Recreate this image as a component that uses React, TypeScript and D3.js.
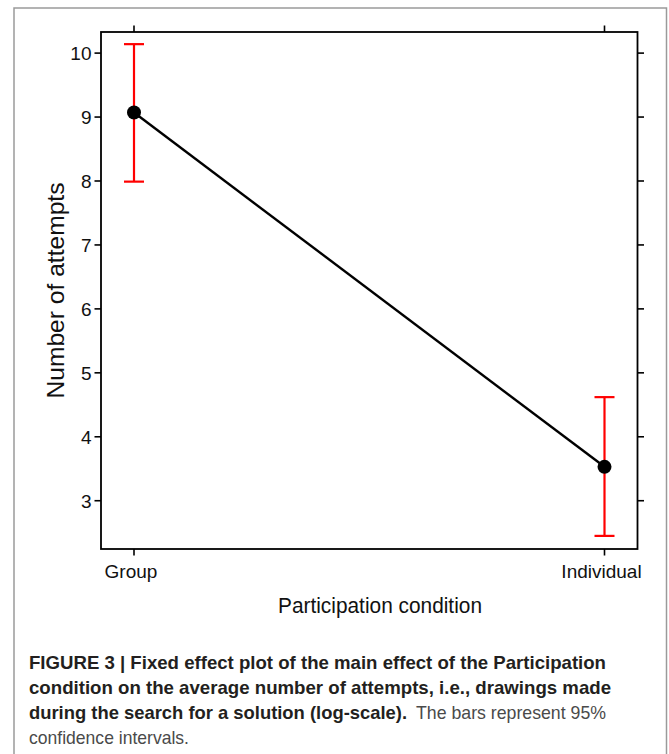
import React from "react";
import * as d3 from "d3";

const categories = ["Group", "Individual"];
const means = [9.07, 3.53];
const lowers = [7.99, 2.45];
const uppers = [10.14, 4.62];
const yTicks = [3, 4, 5, 6, 7, 8, 9, 10];
const yLabel = "Number of attempts";
const xLabel = "Participation condition";
const captionBold1 = "FIGURE 3 | Fixed effect plot of the main effect of the Participation";
const captionBold2 = "condition on the average number of attempts, i.e., drawings made";
const captionBold3 = "during the search for a solution (log-scale).";
const captionReg3 = "The bars represent 95%";
const captionReg4 = "confidence intervals.";

const W = 669;
const H = 754;
const box = { left: 101, right: 637.5, top: 32, bottom: 549 };
const FONT = "'Liberation Sans', Arial, Helvetica, sans-serif";

export default function App() {
  const x = d3
    .scalePoint<string>()
    .domain(categories)
    .range([box.left + 33, box.right - 33]);
  const y = d3.scaleLinear().domain([2.245, 10.33]).range([box.bottom, box.top]);

  const pts = categories.map((c, i) => ({ c, m: means[i], lo: lowers[i], hi: uppers[i] }));
  const line = d3
    .line<{ c: string; m: number }>()
    .x((d) => x(d.c) as number)
    .y((d) => y(d.m));

  const tickLen = 6.5;

  return (
    <div style={{ position: "absolute", left: 0, top: 0 }}>
      <svg width={W} height={H} style={{ display: "block", background: "#fff" }}>
        <rect x={14} y={8} width={652.5} height={760} fill="none" stroke="#9a9a9a" strokeWidth={1.5} />

        {yTicks.map((t) => (
          <g key={t}>
            <line x1={box.left - tickLen} x2={box.left} y1={y(t)} y2={y(t)} stroke="#000" strokeWidth={1.6} />
            <line x1={box.right} x2={box.right + tickLen} y1={y(t)} y2={y(t)} stroke="#000" strokeWidth={1.6} />
            <text
              x={box.left - tickLen - 3}
              y={y(t)}
              dy="0.36em"
              textAnchor="end"
              fontFamily={FONT}
              fontSize={19}
              fill="#111"
            >
              {t}
            </text>
          </g>
        ))}

        {categories.map((c) => (
          <g key={c}>
            <line x1={x(c)} x2={x(c)} y1={box.top - tickLen} y2={box.top} stroke="#000" strokeWidth={1.6} />
            <line x1={x(c)} x2={x(c)} y1={box.bottom} y2={box.bottom + tickLen} stroke="#000" strokeWidth={1.6} />
            <text x={(x(c) as number) - 3} y={578} textAnchor="middle" fontFamily={FONT} fontSize={19} fill="#111">
              {c}
            </text>
          </g>
        ))}

        <rect
          x={box.left}
          y={box.top}
          width={box.right - box.left}
          height={box.bottom - box.top}
          fill="none"
          stroke="#000"
          strokeWidth={1.8}
        />

        <path d={line(pts) || ""} fill="none" stroke="#000" strokeWidth={2.4} />

        {pts.map((p) => {
          const cx = x(p.c) as number;
          return (
            <g key={p.c} stroke="#ff0000" strokeWidth={2.2}>
              <line x1={cx} x2={cx} y1={y(p.lo)} y2={y(p.hi)} />
              <line x1={cx - 10} x2={cx + 10} y1={y(p.lo)} y2={y(p.lo)} />
              <line x1={cx - 10} x2={cx + 10} y1={y(p.hi)} y2={y(p.hi)} />
            </g>
          );
        })}

        {pts.map((p) => (
          <circle key={p.c} cx={x(p.c) as number} cy={y(p.m)} r={7} fill="#000" />
        ))}

        <text
          transform={`translate(63.5,${(box.top + box.bottom) / 2}) rotate(-90)`}
          textAnchor="middle"
          fontFamily={FONT}
          fontSize={24}
          fill="#111"
          textLength={216}
          lengthAdjust="spacingAndGlyphs"
        >
          {yLabel}
        </text>
        <text
          x={380}
          y={613}
          textAnchor="middle"
          fontFamily={FONT}
          fontSize={22}
          fill="#111"
          textLength={204}
          lengthAdjust="spacingAndGlyphs"
        >
          {xLabel}
        </text>

        <text x={29} y={669} fontFamily={FONT} fontSize={18.5} fontWeight="bold" fill="#231f20" textLength={577} lengthAdjust="spacingAndGlyphs">
          {captionBold1}
        </text>
        <text x={29} y={694} fontFamily={FONT} fontSize={18.5} fontWeight="bold" fill="#231f20" textLength={582} lengthAdjust="spacingAndGlyphs">
          {captionBold2}
        </text>
        <text x={29} y={719} fontFamily={FONT} fontSize={18.5} fontWeight="bold" fill="#231f20" textLength={378} lengthAdjust="spacingAndGlyphs">
          {captionBold3}
        </text>
        <text x={416} y={719} fontFamily={FONT} fontSize={18.5} fill="#4a4a4a" textLength={190} lengthAdjust="spacingAndGlyphs">
          {captionReg3}
        </text>
        <text x={29} y={744} fontFamily={FONT} fontSize={18.5} fill="#4a4a4a" textLength={160} lengthAdjust="spacingAndGlyphs">
          {captionReg4}
        </text>
      </svg>
    </div>
  );
}
